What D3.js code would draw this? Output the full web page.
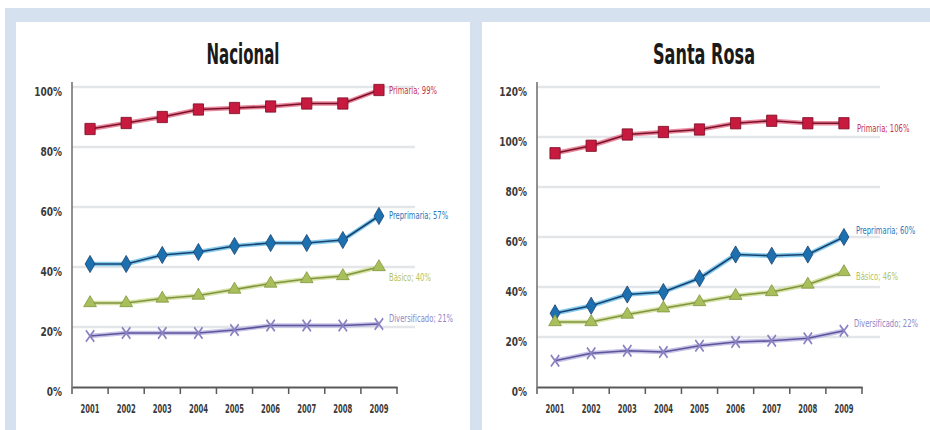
<!doctype html>
<html lang="es">
<head>
<meta charset="utf-8">
<script src="https://cdn.jsdelivr.net/npm/d3@7"></script>
<style>
body{margin:0;padding:0;background:#fff;}
svg{display:block;}
.narrow{font-family:"Liberation Sans Narrow","Arial Narrow","DejaVu Sans Condensed",sans-serif;}
</style>
</head>
<body>
<svg id="chart" width="930" height="430"></svg>
<script>
// data
var years = ["2001","2002","2003","2004","2005","2006","2007","2008","2009"];
var seriesNames = ["Primaria","Preprimaria","Básico","Diversificado"];

var nacPrimaria      = [86, 88, 90, 92.5, 93, 93.5, 94.5, 94.5, 99];
var nacPreprimaria   = [41, 41, 44, 45, 47, 48, 48, 49, 57];
var nacBasico        = [28, 28, 29.5, 30.5, 32.5, 34.5, 36, 37, 40];
var nacDiversificado = [17, 18, 18, 18, 19, 20.5, 20.5, 20.5, 21];
var nacLabels = ["Primaria; 99%","Preprimaria; 57%","Básico; 40%","Diversificado; 21%"];
var nacTicks = [0, 20, 40, 60, 80, 100];

var srPrimaria      = [93.5, 96.5, 101, 102, 103, 105.5, 106.5, 105.5, 105.5];
var srPreprimaria   = [29.5, 32.5, 37, 38, 43.5, 53, 52.5, 53, 60];
var srBasico        = [26, 26, 29, 31.5, 34, 36.5, 38, 41, 46];
var srDiversificado = [10.5, 13.5, 14.5, 14, 16.5, 18, 18.5, 19.5, 22.5];
var srLabels = ["Primaria; 106%","Preprimaria; 60%","Básico; 46%","Diversificado; 22%"];
var srTicks = [0, 20, 40, 60, 80, 100, 120];

// styles
var fills  = ["#c8193f","#1d70b0","#a9bf5c","#8b82c2"];
var cores  = ["#7d1029","#16426e","#80953f","#5c549c"];
var halos  = ["#e46b86","#66bde8","#cddc92","#b8b2de"];
var txtCol = ["#c33352","#2b79b9","#b3c463","#8d87c6"];
var symbols = [d3.symbolSquare, d3.symbolDiamond, d3.symbolTriangle, d3.symbolX];
var symSize = [105, 85, 70, 65];

// squeeze a text horizontally (the original uses a narrow face)
function squeeze(sel, k){
	sel.each(function(){
		var w = this.getComputedTextLength();
		d3.select(this).attr("textLength", w*k).attr("lengthAdjust","spacingAndGlyphs");
	});
}

var svg = d3.select("#chart");

// background frame
svg.append("rect").attr("x",5).attr("y",8).attr("width",925).attr("height",422).attr("fill","#d6e1ef");
svg.append("rect").attr("x",16).attr("y",22).attr("width",454).attr("height",408).attr("fill","#fff");
svg.append("rect").attr("x",482).attr("y",22).attr("width",448).attr("height",408).attr("fill","#fff");

var panels = [
	{title:"Nacional", cx:243, titleW:73, left:72, right:397, gridR:415, yMax:100, ticks:nacTicks,
	 series:[nacPrimaria,nacPreprimaria,nacBasico,nacDiversificado], labels:nacLabels,
	 labDx:[10,10,10,10], labDy:[0,-1,10,-6]},
	{title:"Santa Rosa", cx:704, titleW:102, left:537, right:862, gridR:880, yMax:120, ticks:srTicks,
	 series:[srPrimaria,srPreprimaria,srBasico,srDiversificado], labels:srLabels,
	 labDx:[13,12,12,10], labDy:[5,-7,4,-7]}
];

panels.forEach(function(p){
	var g = svg.append("g");
	var x = d3.scaleBand().domain(years).range([p.left, p.right]).padding(0);
	var y = d3.scaleLinear().domain([0, p.yMax]).range([387, 87]);

	// title
	g.append("text")
		.attr("class","narrow")
		.attr("x", p.cx).attr("y", 64)
		.attr("text-anchor","middle")
		.attr("font-size", 29).attr("font-weight","bold")
		.attr("fill","#1a1a1a")
		.attr("textLength", p.titleW).attr("lengthAdjust","spacingAndGlyphs")
		.text(p.title);

	// gridlines
	g.selectAll(".grid").data(p.ticks.filter(function(t){return t>0;})).enter()
		.append("line")
		.attr("x1", p.left).attr("x2", p.gridR)
		.attr("y1", function(d){return y(d);}).attr("y2", function(d){return y(d);})
		.attr("stroke","#e3e5e8").attr("stroke-width",2.5);

	// y axis
	var ya = g.append("g")
		.attr("transform","translate("+p.left+",0)")
		.call(d3.axisLeft(y).tickValues(p.ticks).tickSize(0).tickPadding(10)
			.tickFormat(function(d){return d+"%";}));
	ya.select(".domain").attr("d","M0,"+(y(p.yMax)-5)+"V387").attr("stroke","#6b6b6b").attr("stroke-width",1.5);
	ya.selectAll("text").attr("class","narrow").attr("font-size",12.5).attr("font-weight","bold")
		.attr("fill","#3a3a3a").attr("dy","0.65em").call(squeeze, 0.8);

	// x axis
	var xa = g.append("g")
		.attr("transform","translate(0,387)")
		.call(d3.axisBottom(x).tickSize(0).tickPadding(18));
	xa.select(".domain").attr("stroke","#5a5a5a").attr("stroke-width",1.8);
	xa.selectAll("text").attr("class","narrow").attr("font-size",11.5).attr("font-weight","bold")
		.attr("fill","#3a3a3a").call(squeeze, 0.66);
	// tick marks on band boundaries
	var bounds = years.map(function(d){return x(d);}).concat([p.right]);
	g.selectAll(".xt").data(bounds).enter().append("line")
		.attr("x1", function(d){return d;}).attr("x2", function(d){return d;})
		.attr("y1", 387).attr("y2", 394)
		.attr("stroke","#5a5a5a").attr("stroke-width",1.5);

	// series
	p.series.forEach(function(vals, i){
		var line = d3.line()
			.x(function(d, j){return x(years[j]) + x.bandwidth()/2;})
			.y(function(d){return y(d);});
		g.append("path").datum(vals).attr("d", line)
			.attr("fill","none").attr("stroke", halos[i]).attr("stroke-width",4.5)
			.attr("stroke-linejoin","round").attr("opacity",0.8);
		g.append("path").datum(vals).attr("d", line)
			.attr("fill","none").attr("stroke", cores[i]).attr("stroke-width",1.6)
			.attr("stroke-linejoin","round");

		var sym = d3.symbol().type(symbols[i]).size(symSize[i]);
		g.selectAll(".m"+i).data(vals).enter().append("path")
			.attr("d", sym)
			.attr("transform", function(d, j){
				var sc = i==0 ? " scale(1,1.1)" : (i==3 ? " scale(0.85,1.15)" : "");
				return "translate("+(x(years[j]) + x.bandwidth()/2)+","+y(d)+")"+sc;
			})
			.attr("fill", i==3 ? "none" : fills[i])
			.attr("stroke", i==3 ? fills[i] : cores[i])
			.attr("stroke-width", i==3 ? 1.8 : 0.8);

		// end label, narrowed with a transform
		var last = vals.length-1;
		var lx = x(years[last]) + x.bandwidth()/2 + p.labDx[i];
		var ly = y(vals[last]) + p.labDy[i];
		g.append("text")
			.attr("class","narrow")
			.attr("transform","translate("+lx+","+ly+") scale(0.76,1)")
			.attr("dy","0.35em")
			.attr("font-size",10)
			.attr("fill", txtCol[i])
			.text(p.labels[i]);
	});
});
</script>
</body>
</html>
